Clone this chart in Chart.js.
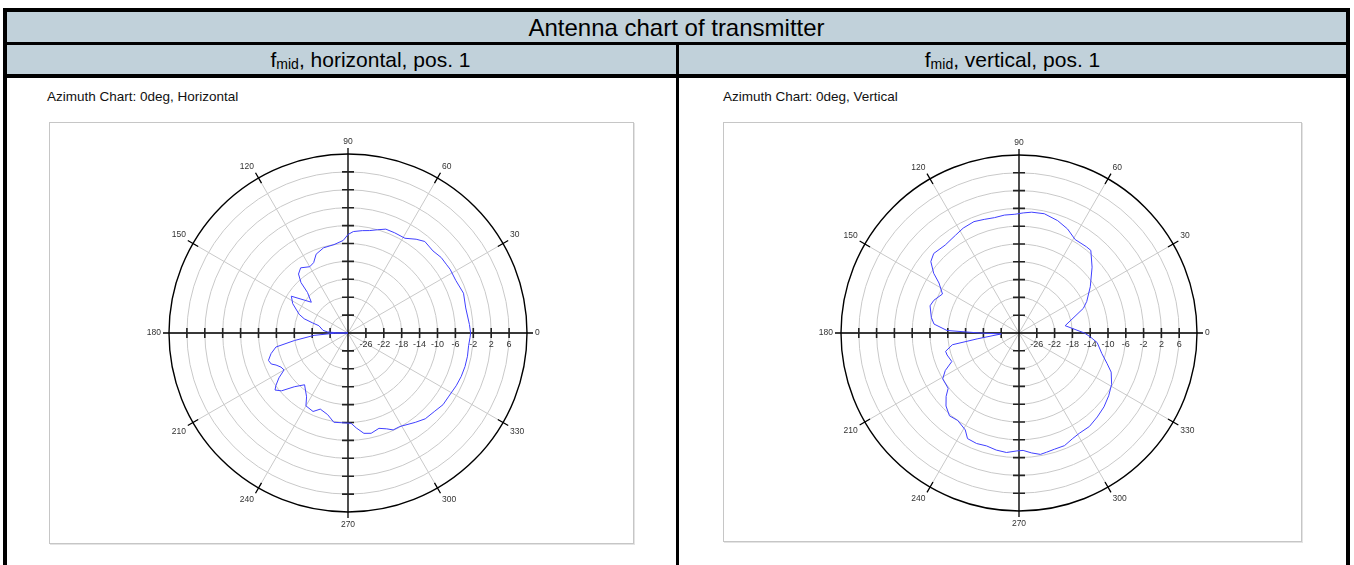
<!DOCTYPE html>
<html>
<head>
<meta charset="utf-8">
<title>Antenna chart of transmitter</title>
<script src="https://cdn.jsdelivr.net/npm/chart.js@4.4.1/dist/chart.umd.min.js"></script>
<style>
  html, body { margin: 0; padding: 0; background: #fff; overflow: hidden; }
  body { width: 1354px; height: 565px; position: relative; font-family: "Liberation Sans", Arial, Helvetica, sans-serif; color: #000; }
  .abs { position: absolute; box-sizing: border-box; }
  #outer { left: 3px; top: 8px; width: 1347px; height: 620px; border: 4px solid #000; border-bottom: none; }
  #title { left: 7px; top: 12px; width: 1339px; height: 30px; background: #c1d1da; font-size: 24px; line-height: 31px; text-align: center; }
  #sep1 { left: 7px; top: 42px; width: 1339px; height: 3px; background: #000; }
  .sub { top: 45px; height: 29px; background: #c1d1da; font-size: 21px; line-height: 30px; text-align: center; }
  .sub sub { font-size: 14px; vertical-align: baseline; position: relative; top: 2px; }
  #subL { left: 7px; width: 669px; padding-left: 58px; }
  #subR { left: 679px; width: 667px; }
  #sep2 { left: 7px; top: 74px; width: 1339px; height: 4px; background: #000; }
  #divider { left: 676px; top: 45px; width: 3px; height: 540px; background: #000; }
  .caption { top: 89px; font-size: 13.5px; line-height: 15px; color: #111; white-space: nowrap; }
  .box { border: 1px solid #c6c6c6; box-shadow: 1px 1px 0 #e4e4e4; }
  canvas { position: absolute; }
</style>
</head>
<body>
  <div id="outer" class="abs"></div>
  <div id="title" class="abs">Antenna chart of transmitter</div>
  <div id="sep1" class="abs"></div>
  <div id="subL" class="abs sub">f<sub>mid</sub>, horizontal, pos. 1</div>
  <div id="subR" class="abs sub">f<sub>mid</sub>, vertical, pos. 1</div>
  <div id="sep2" class="abs"></div>
  <div id="divider" class="abs"></div>

  <div class="abs caption" style="left:47px;">Azimuth Chart: 0deg, Horizontal</div>
  <div class="abs caption" style="left:723px;">Azimuth Chart: 0deg, Vertical</div>

  <div class="abs box" style="left:49px; top:122px; width:585px; height:422px;"></div>
  <div class="abs box" style="left:723px; top:122px; width:579px; height:420px;"></div>

  <canvas id="chartH" width="584" height="421" style="left:49px; top:122px; width:584px; height:421px;"></canvas>
  <canvas id="chartV" width="578" height="420" style="left:723px; top:122px; width:578px; height:420px;"></canvas>

<script>
// Radial scale: level in dB
const levelMin = -30;
const levelMax = 10;
const levelStep = 4;
const levelTickLabels = [-26, -22, -18, -14, -10, -6, -2, 2, 6];

// Azimuth labels around the rim, degrees counter-clockwise from east
const azimuthTicks = [0, 30, 60, 90, 120, 150, 180, 210, 240, 270, 300, 330];

// Horizontal polarisation: azimuth (deg) and measured level (dB)
const horizAzimuth = [0, 4, 12, 19, 26, 32, 35, 39, 44, 50, 54, 59, 65, 70, 74, 78, 82, 87, 90, 93,
  99, 106, 112, 116, 120, 126, 130, 133, 135, 140, 147, 152, 159, 162, 164, 166, 174, 177, 179, 180,
  181, 184, 188, 191, 195, 199, 202, 204, 207, 210, 213, 216, 218, 221, 225, 230, 237, 240, 246, 250,
  256, 261, 266, 272, 275, 279, 283, 288, 292, 295, 299, 307, 312, 318, 323, 328, 334, 339, 344, 349,
  354, 358];
const horizLevel = [-2.6, -2.8, -3.1, -2.7, -3.2, -3.1, -3.2, -3.2, -3.6, -3.3, -4.1, -5.3, -5.3, -5.3, -6.0, -6.6, -6.9, -7.3, -8.0, -9.3,
  -10.0, -10.2, -11.0, -12.5, -12.9, -12.0, -12.8, -14.6, -17.2, -19.3, -14.9, -16.0, -18.3, -19.7, -21.7, -23.3, -24.4, -25.4, -27.5, -30.0,
  -27.0, -22.4, -17.9, -13.6, -12.2, -11.2, -11.5, -12.4, -13.2, -13.5, -11.6, -10.1, -9.3, -10.3, -13.0, -14.9, -13.0, -11.2, -10.8, -11.9,
  -11.2, -9.8, -9.9, -9.8, -8.7, -7.3, -7.0, -7.6, -6.9, -6.1, -6.1, -5.0, -4.2, -3.9, -3.4, -3.4, -3.1, -2.9, -2.8, -2.8,
  -2.9, -2.7];

// Vertical polarisation: azimuth (deg) and measured level (dB)
const vertAzimuth = [0, 9, 21, 25, 33, 42, 49, 52, 59, 65, 71, 78, 84, 88, 92, 97, 102, 107, 112, 118,
  123, 130, 137, 141, 145, 148, 153, 159, 163, 170, 174, 178, 180, 183, 188, 190, 194, 197, 203, 207,
  211, 218, 221, 225, 230, 235, 241, 244, 249, 254, 259, 264, 269, 272, 276, 280, 283, 287, 292, 297,
  301, 307, 313, 319, 325, 331, 337, 341, 346, 353, 357];
const vertLevel = [-15.3, -19.5, -14.5, -13.2, -10.9, -7.9, -5.4, -5.4, -5.5, -4.2, -3.3, -2.6, -2.7, -3.0, -3.3, -3.3, -3.5, -3.3, -3.0, -3.3,
  -3.8, -4.2, -3.8, -4.5, -6.6, -8.8, -10.7, -9.5, -9.1, -10.0, -10.8, -13.8, -21.2, -26.0, -20.5, -14.8, -13.0, -13.1, -13.6, -11.4,
  -10.0, -9.8, -8.3, -6.8, -5.7, -6.0, -5.1, -3.6, -3.4, -3.6, -3.2, -3.0, -3.5, -3.6, -2.9, -2.3, -2.5, -2.7, -2.7, -3.4,
  -3.7, -3.7, -4.2, -4.7, -5.4, -6.2, -7.5, -9.1, -10.8, -12.3, -14.0];

// The radar scale runs clockwise from its start angle; starting at east (90)
// with one category per degree, category i sits at azimuth (360 - i) mod 360.
const DEGREES = 360;
const categoryOf = az => (DEGREES - az) % DEGREES;
const categories = Array.from({ length: DEGREES }, (_, i) => String(categoryOf(i)));

function toSeries(azimuths, levels) {
  const series = new Array(DEGREES).fill(null);
  azimuths.forEach((az, k) => { series[categoryOf(az)] = levels[k]; });
  return series;
}

const GRID_GREY = '#c9c9c9';
const INK = '#000';
const LABEL_INK = '#333';

// Black axes, rim, tick marks and all labels of the polar plot
const polarFrame = {
  id: 'polarFrame',
  beforeDatasetsDraw(chart) {
    const s = chart.scales.r;
    const ctx = chart.ctx;
    const cx = s.xCenter, cy = s.yCenter, R = s.drawingArea;
    ctx.save();

    // rim
    ctx.strokeStyle = INK;
    ctx.lineWidth = 1.4;
    ctx.beginPath();
    ctx.arc(cx, cy, R, 0, Math.PI * 2);
    ctx.stroke();

    // cross axes
    const over = 6;
    ctx.lineWidth = 1.3;
    ctx.beginPath();
    ctx.moveTo(cx - R - over, cy); ctx.lineTo(cx + R + over, cy);
    ctx.moveTo(cx, cy - R - over); ctx.lineTo(cx, cy + R + over);
    ctx.stroke();

    // ring tick marks on both axes
    ctx.strokeStyle = '#222';
    ctx.lineWidth = 1.6;
    ctx.beginPath();
    levelTickLabels.forEach(v => {
      const d = s.getDistanceFromCenterForValue(v);
      ctx.moveTo(cx + d, cy - 5); ctx.lineTo(cx + d, cy + 5);
      ctx.moveTo(cx - d, cy - 5); ctx.lineTo(cx - d, cy + 5);
      ctx.moveTo(cx - 6, cy - d); ctx.lineTo(cx + 6, cy - d);
      ctx.moveTo(cx - 6, cy + d); ctx.lineTo(cx + 6, cy + d);
    });
    ctx.stroke();

    // rim tick marks on the 30-degree spokes
    ctx.strokeStyle = INK;
    ctx.lineWidth = 1.3;
    ctx.beginPath();
    azimuthTicks.forEach(az => {
      if (az % 90 === 0) return;
      const a = s.getPointPosition(categoryOf(az), R - 6);
      const b = s.getPointPosition(categoryOf(az), R + 6);
      ctx.moveTo(a.x, a.y); ctx.lineTo(b.x, b.y);
    });
    ctx.stroke();

    // azimuth labels
    ctx.fillStyle = LABEL_INK;
    ctx.font = '8.5px "Liberation Sans", Arial, sans-serif';
    azimuthTicks.forEach(az => {
      const p = s.getPointPosition(categoryOf(az), R + 7);
      const c = Math.cos(az * Math.PI / 180), sn = Math.sin(az * Math.PI / 180);
      ctx.textAlign = c > 0.1 ? 'left' : (c < -0.1 ? 'right' : 'center');
      ctx.textBaseline = sn > 0.1 ? 'bottom' : (sn < -0.1 ? 'top' : 'middle');
      ctx.fillText(String(az), p.x + (c > 0.1 ? 1 : (c < -0.1 ? -1 : 0)), p.y + (sn > 0.1 ? -1 : (sn < -0.1 ? 1 : 0)));
    });

    // level labels under the 0-degree axis
    ctx.textAlign = 'center';
    ctx.textBaseline = 'top';
    ctx.font = '9px "Liberation Sans", Arial, sans-serif';
    levelTickLabels.forEach(v => {
      const d = s.getDistanceFromCenterForValue(v);
      ctx.fillText(String(v), cx + d, cy + 7);
    });

    ctx.restore();
  }
};

function makePolar(canvasId, azimuths, levels, padding) {
  return new Chart(document.getElementById(canvasId), {
    type: 'radar',
    data: {
      labels: categories,
      datasets: [{
        data: toSeries(azimuths, levels),
        spanGaps: true,
        fill: false,
        borderColor: '#4040ff',
        borderWidth: 1,
        pointRadius: 0,
        pointHoverRadius: 0,
        tension: 0
      }]
    },
    options: {
      responsive: false,
      animation: false,
      events: [],
      layout: { padding },
      plugins: { legend: { display: false }, tooltip: { enabled: false } },
      scales: {
        r: {
          min: levelMin,
          max: levelMax,
          startAngle: 90,
          ticks: { stepSize: levelStep, display: false },
          pointLabels: { display: false },
          grid: {
            circular: true,
            color: ctx => (ctx.tick && ctx.tick.value >= levelMax) ? 'rgba(0,0,0,0)' : GRID_GREY,
            lineWidth: 1
          },
          angleLines: {
            color: GRID_GREY,
            lineWidth: ctx => (Number(ctx.label) % 30 === 0 ? 1 : 0)
          }
        }
      }
    },
    plugins: [polarFrame]
  });
}

makePolar('chartH', horizAzimuth, horizLevel, { left: 120, right: 105, top: 32, bottom: 30 });
makePolar('chartV', vertAzimuth, vertLevel, { left: 118, right: 104, top: 33, bottom: 31 });
</script>
</body>
</html>
